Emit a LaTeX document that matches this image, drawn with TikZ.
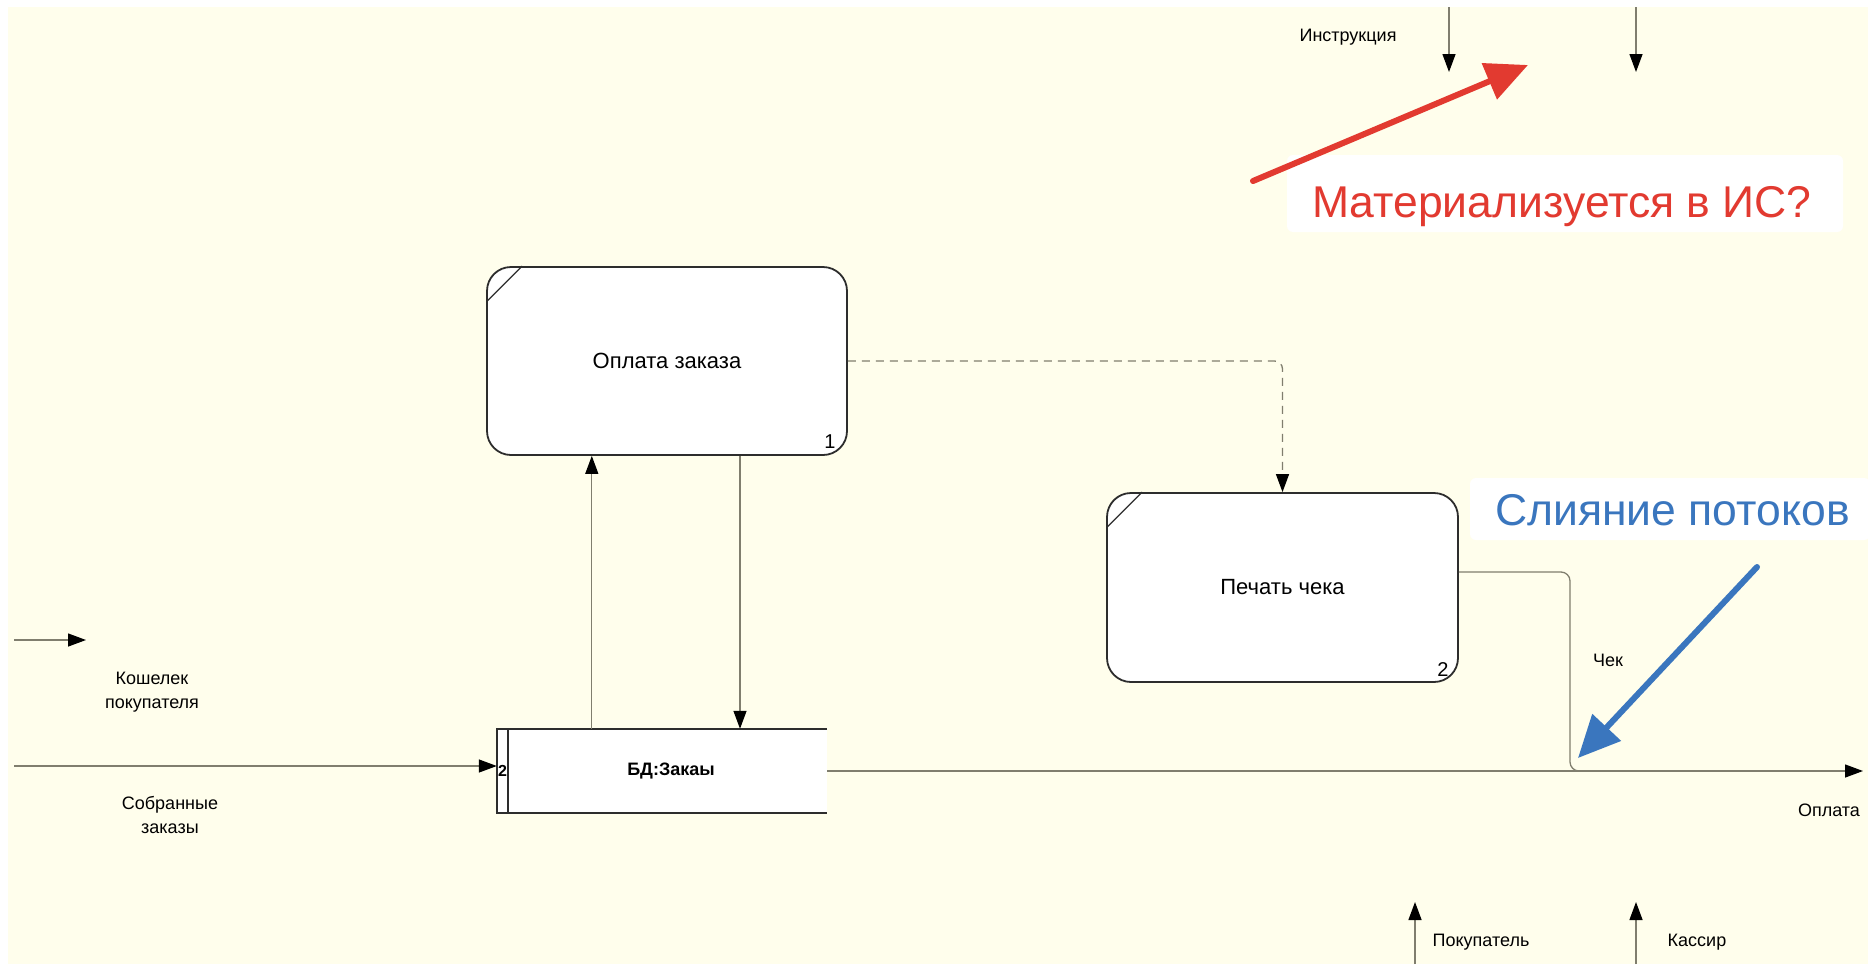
\documentclass[tikz,border=0pt]{standalone}
\usepackage{fontspec}
\setmainfont{Liberation Sans}
\usetikzlibrary{arrows.meta}
\definecolor{bg}{RGB}{255,254,236}
\definecolor{conn}{RGB}{128,126,110}
\definecolor{boxline}{RGB}{45,45,45}
\definecolor{redann}{RGB}{226,58,48}
\definecolor{blueann}{RGB}{58,118,190}
\begin{document}
\begin{tikzpicture}[x=1pt,y=-1pt,
  proc/.style={draw=boxline, line width=1.8pt, fill=white, rounded corners=24pt,
    inner sep=0pt, font=\fontsize{22}{26}\selectfont},
  flow/.style={draw=conn, line width=1.3pt},
  tipb/.style={-{Triangle[length=18pt,width=13pt,color=black]}},
  lbl/.style={font=\fontsize{18}{24}\selectfont, align=center, inner sep=0pt},
  num/.style={font=\fontsize{20}{22}\selectfont, inner sep=0pt},
  annbox/.style={fill=white, draw=none, rounded corners=6pt, inner sep=0pt},
  anntext/.style={font=\fontsize{44.5}{50}\selectfont, inner sep=0pt, anchor=base west},
  annarrow/.style={line width=6pt, -{Triangle[length=42pt,width=38pt]}}
]
\useasboundingbox (0,0) rectangle (1868,964);
\fill[white] (0,0) rectangle (1868,964);
\fill[bg] (8,7) rectangle (1868,964);

% process boxes
\node[proc, minimum width=360pt, minimum height=188pt] (op) at (667,361) {Оплата заказа};
\draw[boxline, line width=1.3pt] (op.north west) ++(1,35) -- ++(35,-35);
\node[num] (n1) at (830,442) {1};

\node[proc, minimum width=351pt, minimum height=189pt] (pe) at (1282.5,587.5) {Печать чека};
\draw[boxline, line width=1.3pt] (pe.north west) ++(1,35) -- ++(35,-35);
\node[num] (n2) at (1443,670) {2};

% data store
\node[minimum width=330pt, minimum height=84pt, inner sep=0pt] (bd) at (662,771) {};
\fill[white] (bd.north west) rectangle (bd.south east);
\draw[boxline, line width=1.8pt] (bd.north east) -- (bd.north west) -- (bd.south west) -- (bd.south east);
\draw[boxline, line width=1.8pt] ([xshift=11pt]bd.north west) -- ([xshift=11pt]bd.south west);
\node[font=\bfseries\fontsize{18}{22}\selectfont, inner sep=0pt] (bdt) at (671,771) {БД:Закаы};
\node[font=\bfseries\fontsize{16}{18}\selectfont, inner sep=0pt] (bdn) at (502.5,771) {2};

% free ends
\coordinate (k1) at (14,640);
\coordinate (k2) at (86,640);
\coordinate (s1) at (14,766);
\coordinate (oend) at (1863,771);
\coordinate (m) at (1570,771);
\coordinate (t1a) at (1449,7);
\coordinate (t1b) at (1449,72);
\coordinate (t2a) at (1636,7);
\coordinate (t2b) at (1636,72);
\coordinate (b1a) at (1415,964);
\coordinate (b1b) at (1415,902);
\coordinate (b2a) at (1636,964);
\coordinate (b2b) at (1636,902);

% connectors
\draw[flow, tipb] (k1) -- (k2);
\draw[flow, tipb] (s1) -- (s1 -| bd.west);
\draw[flow, tipb] ([xshift=95pt]bd.north west) -- ([xshift=95pt]bd.north west |- op.south);
\draw[flow, tipb] ([xshift=73pt]op.south) -- ([xshift=73pt]op.south |- bd.north);
\draw[flow, dashed, dash pattern=on 8pt off 6pt, rounded corners=8pt, tipb] (op.east) -| (pe.north);
\draw[flow, tipb] (bd.east) -- (oend);
\draw[flow, rounded corners=9pt] ([yshift=15.5pt]pe.east) -| (m) -- ++(20,0);
\draw[flow, tipb] (t1a) -- (t1b);
\draw[flow, tipb] (t2a) -- (t2b);
\draw[flow, tipb] (b1a) -- (b1b);
\draw[flow, tipb] (b2a) -- (b2b);

% labels
\node[lbl] (l1) at (1348,37) {Инструкция};
\node[lbl] (l2) at (152,692) {Кошелек\\покупателя};
\node[lbl] (l3) at (170,815) {Собранные\\заказы};
\node[lbl] (l4) at (1608,660) {Чек};
\node[lbl] (l5) at (1829,810) {Оплата};
\node[lbl] (l6) at (1481,942) {Покупатель};
\node[lbl] (l7) at (1697,942) {Кассир};

% annotations
\node[annbox, minimum width=556pt, minimum height=77pt] (mb) at (1565,193.5) {};
\node[anntext, text=redann] (mt) at (1312,217) {Материализуется в ИС?};
\coordinate (ra) at (1253,181);
\coordinate (rb) at (1528,65);
\draw[annarrow, draw=redann, fill=redann, line cap=round] (ra) -- (rb);

\node[annbox, minimum width=400pt, minimum height=62pt] (sb) at (1670,509) {};
\node[anntext, text=blueann] (st) at (1495,525) {Слияние потоков};
\coordinate (ba) at (1757,567);
\coordinate (bb) at (1578,758);
\draw[annarrow, draw=blueann, fill=blueann, line cap=round] (ba) -- (bb);
\end{tikzpicture}
\end{document}
